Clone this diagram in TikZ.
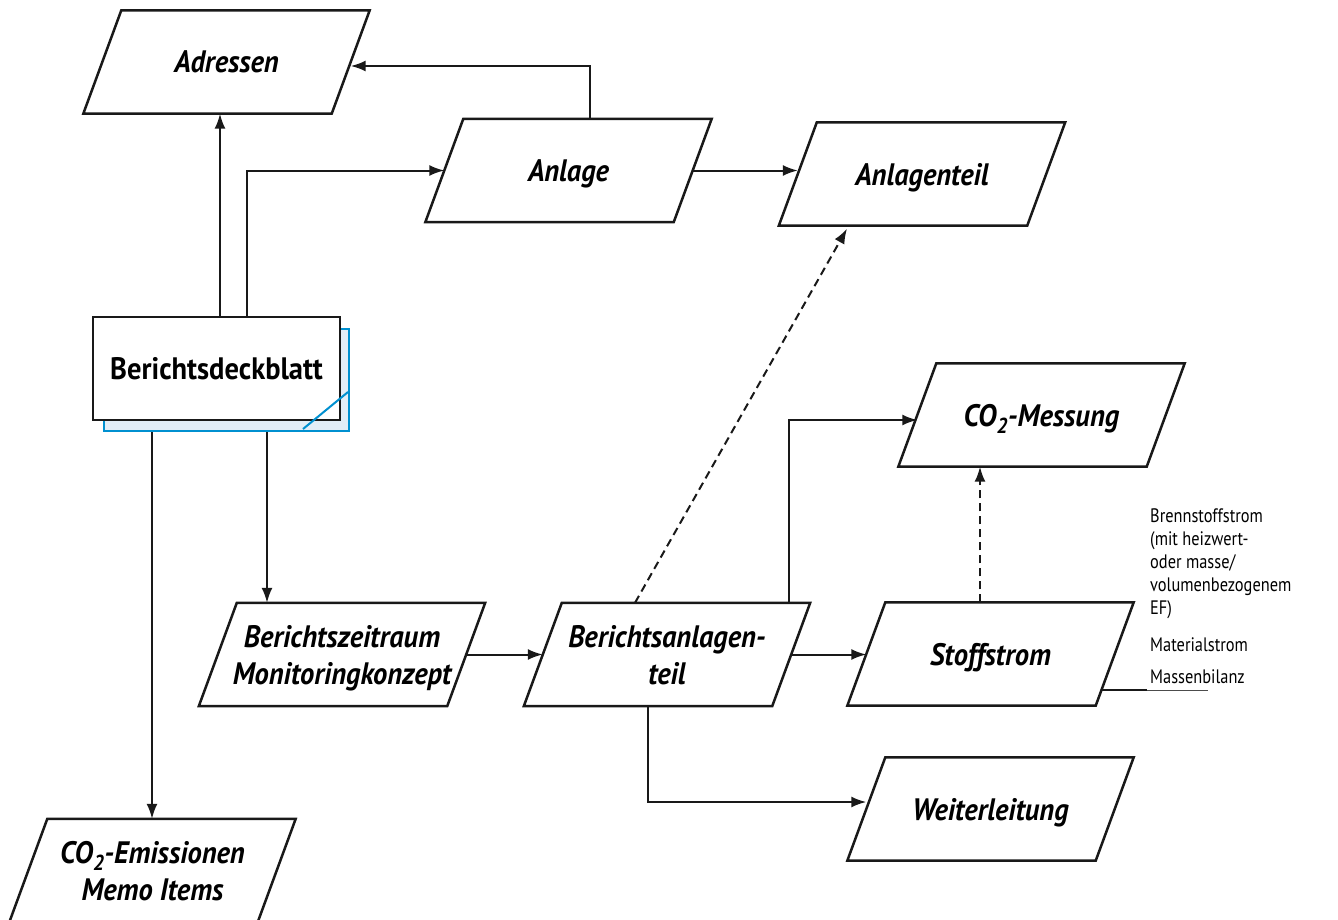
\documentclass[tikz,border=0pt]{standalone}
\usepackage{fontspec}
\setmainfont{PT Sans}
\newfontfamily\boxfont[FakeStretch=0.92]{PT Sans}
\newfontfamily\notefont[FakeStretch=0.84]{PT Sans}
\usetikzlibrary{arrows.meta}
\definecolor{docblue}{RGB}{0,144,208}
\definecolor{docfill}{RGB}{226,237,247}
\begin{document}
\begin{tikzpicture}[x=1pt,y=1pt,
    para/.style={rectangle, minimum width=248pt, minimum height=103pt, inner sep=0pt,
      text depth=0pt, align=center, font=\boxfont\fontsize{31}{37}\selectfont\bfseries\itshape},
    border/.style={draw=black!90, line width=2.5pt, line join=miter},
    docbox/.style={rectangle, draw=black!90, line width=2.5pt, fill=white,
      font=\boxfont\fontsize{31}{37}\selectfont\bfseries},
    docback/.style={rectangle, draw=docblue, line width=2pt, fill=docfill},
    note/.style={inner sep=0pt, align=left, font=\notefont\fontsize{19.5}{23}\selectfont},
    arr/.style={line width=2pt, draw=black!90, -{Latex[length=15pt,width=11pt]}},
    link/.style={line width=2pt, draw=black!90},
    dashline/.style={dash pattern=on 8pt off 5pt}]
  \useasboundingbox (0,0) rectangle (1338,-919);
  % top row
  \node[para] (adr) at (226.5,-62) {Adressen};
  \node[para] (anl) at (568.5,-170.5) {Anlage};
  \node[para] (anlt) at (922,-174) {Anlagenteil};
  % report cover sheet
  \node[docback, minimum width=245pt, minimum height=102pt] (deckbg) at (226.5,-380) {};
  \node[docbox, minimum width=247pt, minimum height=103pt] (deck) at (216.5,-368.5) {Berichtsdeckblatt};
  \draw[docblue, line width=2pt] ([shift={(-47pt,3pt)}]deckbg.south east) -- ([shift={(-2pt,40pt)}]deckbg.south east);
  % middle and bottom
  \node[para] (co2m) at (1041.5,-415) {CO\textsubscript{2}-Messung};
  \node[para] (bzr) at (342,-654.5) {Berichtszeitraum\\Monitoringkonzept};
  \node[para] (bat) at (667,-654.5) {Berichtsanlagen-\\teil};
  \node[para] (sto) at (990.5,-654) {Stoffstrom};
  \node[para] (wei) at (990.5,-809) {Weiterleitung};
  \node[para] (co2e) at (152.5,-870.5) {CO\textsubscript{2}-Emissionen\\Memo Items};
  % slanted outlines, slant 38pt over the full height
  \foreach \n in {adr,anl,anlt,co2m,bzr,bat,sto,wei,co2e}
    \draw[border] ([xshift=19pt]\n.north west) -- ([xshift=19pt]\n.north east)
      -- ([xshift=-19pt]\n.south east) -- ([xshift=-19pt]\n.south west) -- cycle;
  % kinds of source streams
  \node[note, anchor=north west] (brenn) at (1150,-508) {Brennstoffstrom\\(mit heizwert-\\oder masse/\\volumenbezogenem\\EF)};
  \node[note, anchor=west] (mat) at (1150,-645) {Materialstrom};
  \node[note, anchor=west] (mbil) at (1150,-677) {Massenbilanz};
  \coordinate (mbmid) at (1147,-690);
  \coordinate (mbend) at (1208,-690);
  % connectors
  \draw[arr] ([xshift=3.5pt]deck.north) -- ([xshift=3.5pt]deck.north |- adr.south);
  \draw[arr] ([xshift=30.5pt]deck.north) |- (anl.west);
  \draw[arr] ([xshift=21.5pt]anl.north) |- ([yshift=-4pt]adr.east);
  \draw[arr] (anl.east) -- (anl.east -| anlt.west);
  \draw[arr] ([xshift=40.5pt]deckbg.south) -- ([xshift=40.5pt]deckbg.south |- bzr.north);
  \draw[arr] ([xshift=-74.5pt]deckbg.south) -- ([xshift=-74.5pt]deckbg.south |- co2e.north);
  \draw[arr] (bzr.east) -- (bat.west);
  \draw[arr, dashline] ([xshift=-32pt]bat.north) -- ([xshift=-75pt,yshift=-3pt]anlt.south);
  \draw[arr] ([xshift=122pt]bat.north) |- ([yshift=-5pt]co2m.west);
  \draw[arr] (bat.east) -- (bat.east -| sto.west);
  \draw[arr, dashline] ([xshift=-10.5pt]sto.north) -- ([xshift=-10.5pt]sto.north |- co2m.south);
  \draw[arr] ([xshift=-19pt]bat.south) |- ([yshift=7pt]wei.west);
  \draw[link] ([xshift=-13.5pt,yshift=-36pt]sto.east) -- (mbmid);
  \draw[black!70, line width=1pt] (mbmid) -- (mbend);
\end{tikzpicture}
\end{document}
